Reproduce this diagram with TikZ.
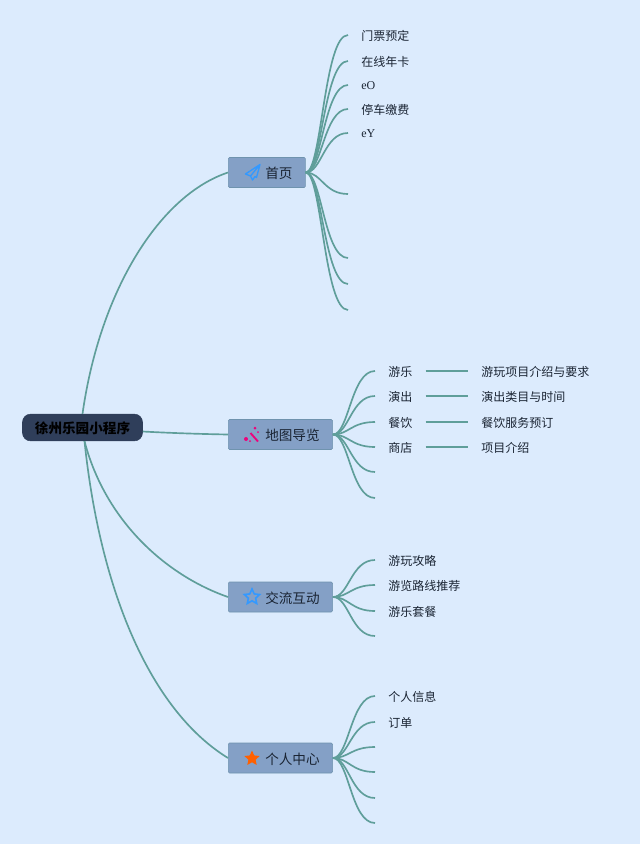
\documentclass[tikz,border=0pt]{standalone}
\usepackage{fontspec}
\setmainfont{Noto Sans CJK SC}
\newfontfamily\latinfont{Liberation Serif}
\usetikzlibrary{positioning, shapes.geometric}
\definecolor{bgblue}{HTML}{DCEBFD}
\definecolor{linegreen}{HTML}{5F9E9A}
\definecolor{hubfill}{HTML}{84A0C6}
\definecolor{hubline}{HTML}{6F93AE}
\definecolor{rootfill}{HTML}{2F3E5A}
\definecolor{textdark}{HTML}{1A2433}

\begin{document}
\begin{tikzpicture}[
    x=0.75pt, y=-0.75pt,
    root/.style={rectangle, draw=rootfill, fill=rootfill, rounded corners=6pt, minimum width=90pt, minimum height=20pt, inner sep=0pt, text height=10.3pt, text depth=1.2pt, font=\bfseries\fontsize{10.2}{12}\selectfont, text=black},
    hub/.style={rectangle, draw=hubline, fill=hubfill, rounded corners=1pt, anchor=west, minimum height=22.5pt, inner xsep=9.75pt, inner ysep=0pt, text height=10.3pt, text depth=1.2pt, font=\fontsize{10.2}{12}\selectfont, text=textdark},
    leaf/.style={anchor=west, inner sep=0pt, yshift=-0.75pt, font=\fontsize{9}{11}\selectfont, text=textdark},
    itemb/.style={anchor=west, inner xsep=9.75pt, inner ysep=0pt, text height=9pt, text depth=1.1pt, font=\fontsize{9}{11}\selectfont, text=textdark},
    branch/.style={draw=linegreen, line width=1.25pt},
    icon/.style={star, star points=5, star point ratio=2.1, minimum size=12pt, inner sep=0pt}
]
    \useasboundingbox (0,0) rectangle (640,844);
    \fill[bgblue] (0,0) rectangle (640,844);

    \node[root] (app) at (82.5,427.5) {徐州乐园小程序};
    \node[hub] (home) at (228,172.5) {\hspace*{18pt}首页};
    \node[hub] (map) at (228,434.5) {\hspace*{18pt}地图导览};
    \node[hub] (talk) at (228,597) {\hspace*{18pt}交流互动};
    \node[hub] (mine) at (228,758) {\hspace*{18pt}个人中心};

    % main branches
    \draw[branch] (app.north) .. controls (100,290) and (160,195) .. (home.west);
    \draw[branch] (app.east) ++(0,4) .. controls (170,433) and (200,434) .. (map.west);
    \draw[branch] (app.south) ++(2,0) .. controls (105,520) and (165,575) .. (talk.west);
    \draw[branch] (app.south) ++(2,0) .. controls (100,590) and (150,710) .. (mine.west);

    % first hub
    \foreach \y [count=\i] in {35,61,85,109,133,194,258,284,310} {
        \coordinate (h\i) at (348,\y);
        \draw[branch] (home.east) .. controls +(16,0) and +(-24,0) .. (h\i);
    }
    \node[leaf] (h1t) at (361,35) {门票预定};
    \node[leaf] (h2t) at (361,61) {在线年卡};
    \node[leaf] (h3t) at (361,85) {\latinfont eO};
    \node[leaf] (h4t) at (361,109) {停车缴费};
    \node[leaf] (h5t) at (361,133) {\latinfont eY};

    % second hub
    \foreach \y [count=\i] in {371,396,422,447,472,498} {
        \coordinate (m\i) at (375,\y);
        \draw[branch] (map.east) .. controls +(16,0) and +(-24,0) .. (m\i);
    }
    \node[itemb] (m1t) at (375,371) {游乐};
    \node[itemb] (m2t) at (375,396) {演出};
    \node[itemb] (m3t) at (375,422) {餐饮};
    \node[itemb] (m4t) at (375,447) {商店};
    \node[itemb] (m1r) at (468,371) {游玩项目介绍与要求};
    \node[itemb] (m2r) at (468,396) {演出类目与时间};
    \node[itemb] (m3r) at (468,422) {餐饮服务预订};
    \node[itemb] (m4r) at (468,447) {项目介绍};
    \foreach \i in {1,2,3,4}
        \draw[branch] (m\i t.east) -- (m\i r.west);

    % third hub
    \foreach \y [count=\i] in {560,585,611,636} {
        \coordinate (t\i) at (375,\y);
        \draw[branch] (talk.east) .. controls +(16,0) and +(-24,0) .. (t\i);
    }
    \node[leaf] (t1t) at (388,560) {游玩攻略};
    \node[leaf] (t2t) at (388,585) {游览路线推荐};
    \node[leaf] (t3t) at (388,611) {游乐套餐};

    % fourth hub
    \foreach \y [count=\i] in {696,722,747,772,798,823} {
        \coordinate (c\i) at (375,\y);
        \draw[branch] (mine.east) .. controls +(16,0) and +(-24,0) .. (c\i);
    }
    \node[leaf] (c1t) at (388,696) {个人信息};
    \node[leaf] (c2t) at (388,722) {订单};

    % icons
    \draw[draw=blue!50!cyan!80, line width=1pt, line join=round] (260,164.5) -- (245.5,174) -- (250.5,176) -- (252.5,180) -- (255,176.5) -- (256.5,177.5) -- cycle (260,164.5) -- (250.5,176);
    \draw[draw=magenta!85!red, line width=1.4pt] (250.5,433) -- (258,441.5);
    \fill[magenta!85!red] (246,439) circle (2) (255,428) circle (1.5) (258,432) circle (1) (250,441) circle (1);
    \node[icon, draw=blue!50!cyan!80, line width=1.2pt] (talkicon) at (252,597) {};
    \node[icon, fill=orange!75!red] (mineicon) at (252,758.5) {};
\end{tikzpicture}
\end{document}
